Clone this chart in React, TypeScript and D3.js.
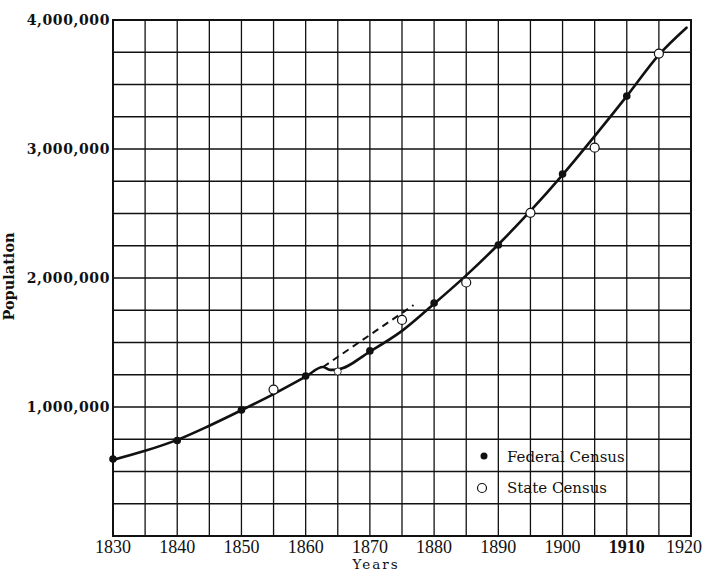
import React from "react";
import * as d3 from "d3";

const W = 704;
const H = 572;

// Fitted curve through the census record (year, population)
const curveYears = [1830, 1835, 1840, 1845, 1850, 1855, 1860, 1862.7, 1863.8, 1864.9, 1870, 1875, 1880, 1885, 1890, 1895, 1900, 1905, 1910, 1915, 1919.3];
const curveValues = [590000, 660000, 745000, 855000, 975000, 1100000, 1235000, 1310000, 1288000, 1290000, 1430000, 1590000, 1800000, 2020000, 2260000, 2520000, 2800000, 3100000, 3410000, 3730000, 3940000];

const federalYears = [1830, 1840, 1850, 1860, 1870, 1880, 1890, 1900, 1910];
const federalValues = [597000, 740000, 977000, 1240000, 1435000, 1806000, 2256000, 2806000, 3410000];

const stateYears = [1855, 1865, 1875, 1885, 1895, 1905, 1915];
const stateValues = [1135000, 1275000, 1675000, 1965000, 2505000, 3010000, 3740000];

const dashedYears = [1862.7, 1876.8];
const dashedValues = [1310000, 1790000];

const xTicks = [1830, 1840, 1850, 1860, 1870, 1880, 1890, 1900, 1910, 1920];
const yTicks = [1000000, 2000000, 3000000, 4000000];
const yTickLabels = ["1,000,000", "2,000,000", "3,000,000", "4,000,000"];

const legendLabels = ["Federal Census", "State Census"];

export default function App() {
  const x = d3.scaleLinear().domain([1830, 1920]).range([113, 691]);
  const y = d3.scaleLinear().domain([0, 4000000]).range([536, 20]);

  const vGrid = d3.range(1830, 1921, 5);
  const hGrid = d3.range(0, 4000001, 250000);

  const line = d3
    .line<[number, number]>()
    .x((d) => x(d[0]))
    .y((d) => y(d[1]))
    .curve(d3.curveMonotoneX);
  const straight = d3
    .line<[number, number]>()
    .x((d) => x(d[0]))
    .y((d) => y(d[1]));

  const curveData: [number, number][] = curveYears.map((yr, i) => [yr, curveValues[i]]);
  const dashedData: [number, number][] = dashedYears.map((yr, i) => [yr, dashedValues[i]]);

  const ink = "#111";

  return (
    <svg
      width={W}
      height={H}
      style={{ position: "absolute", left: 0, top: 0, background: "#fff" }}
    >
      <rect x={0} y={0} width={W} height={H} fill="#fff" />
      {/* grid */}
      {vGrid.map((g) => (
        <line key={"v" + g} x1={x(g)} x2={x(g)} y1={y(0)} y2={y(4000000)} stroke={ink} strokeWidth={1.3} />
      ))}
      {hGrid.map((g) => (
        <line key={"h" + g} x1={x(1830)} x2={x(1920)} y1={y(g)} y2={y(g)} stroke={ink} strokeWidth={1.3} />
      ))}
      <rect
        x={x(1830)}
        y={y(4000000)}
        width={x(1920) - x(1830)}
        height={y(0) - y(4000000)}
        fill="none"
        stroke={ink}
        strokeWidth={2}
      />

      {/* curve */}
      <path d={line(curveData) || ""} fill="none" stroke={ink} strokeWidth={2.6} strokeLinejoin="round" strokeLinecap="round" />
      <path d={straight(dashedData) || ""} fill="none" stroke={ink} strokeWidth={2} strokeDasharray="7,5" />

      {/* federal points */}
      {federalYears.map((yr, i) => (
        <circle key={"f" + yr} cx={x(yr)} cy={y(federalValues[i])} r={3.8} fill={ink} />
      ))}
      {/* state points */}
      {stateYears.map((yr, i) => (
        <circle
          key={"s" + yr}
          cx={x(yr)}
          cy={y(stateValues[i])}
          r={yr === 1865 ? 3.5 : 4.5}
          fill="#fff"
          stroke={ink}
          strokeWidth={yr === 1865 ? 0.8 : 1.2}
        />
      ))}

      {/* y labels */}
      {yTicks.map((t, i) => (
        <text
          key={"yt" + t}
          x={110}
          y={y(t) + 5}
          textAnchor="end"
          fontFamily="DejaVu Serif"
          fontWeight="bold"
          fontSize={14}
          letterSpacing={0.6}
          fill={ink}
        >
          {yTickLabels[i]}
        </text>
      ))}

      {/* x labels */}
      {xTicks.map((t) => (
        <text
          key={"xt" + t}
          x={t === 1920 ? 702 : x(t)}
          y={553}
          textAnchor={t === 1920 ? "end" : "middle"}
          fontFamily="Liberation Serif"
          fontSize={18}
          fontWeight={t === 1910 ? "bold" : "normal"}
          fill={ink}
        >
          {t}
        </text>
      ))}

      <text x={376} y={569} textAnchor="middle" fontFamily="DejaVu Serif" fontSize={13.5} letterSpacing={2} fill={ink}>
        Years
      </text>
      <text
        transform="translate(14,276.5) rotate(-90)"
        textAnchor="middle"
        fontFamily="DejaVu Serif"
        fontWeight="bold"
        fontSize={14.5}
        fill={ink}
      >
        Population
      </text>

      {/* legend */}
      <circle cx={484} cy={456} r={3.5} fill={ink} />
      <text x={507} y={462} fontFamily="DejaVu Serif" fontSize={15} fill={ink}>
        {legendLabels[0]}
      </text>
      <circle cx={482} cy={488} r={4.5} fill="#fff" stroke={ink} strokeWidth={1.2} />
      <text x={507} y={493} fontFamily="DejaVu Serif" fontSize={15} fill={ink}>
        {legendLabels[1]}
      </text>
    </svg>
  );
}
